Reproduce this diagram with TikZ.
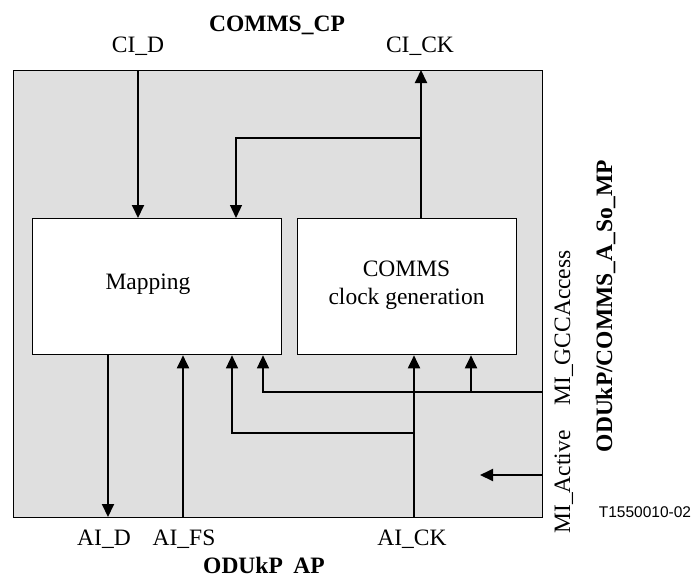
\documentclass[tikz,border=0pt]{standalone}
\usepackage{fontspec}
\setmainfont{Liberation Serif}
\newfontfamily\sansf{Liberation Sans}
\usetikzlibrary{arrows.meta}
\definecolor{bg}{RGB}{223,223,223}
\begin{document}
\begin{tikzpicture}[x=1pt,y=-1pt,
  txt/.style={font=\fontsize{23.5}{28}\selectfont, inner sep=0pt, anchor=base},
  btxt/.style={txt, font=\fontsize{23.5}{28}\selectfont\bfseries},
  blockbox/.style={draw, line width=1.3pt, fill=white, inner sep=0pt, anchor=north west},
  arr/.style={line width=1.9pt, -{Triangle[width=12pt,length=13pt]}},
  thinarr/.style={line width=1.2pt, -{Triangle[width=12pt,length=13pt]}},
  thinline/.style={line width=1.2pt}]
\useasboundingbox (0,0) rectangle (693,579);
% outer frame
\node[draw, line width=1.3pt, fill=bg, inner sep=0pt, anchor=north west,
      minimum width=529pt, minimum height=447pt] (outer) at (13,70) {};
% blocks
\node[blockbox, minimum width=249pt, minimum height=136pt] (map) at (32,218) {};
\node[blockbox, minimum width=219pt, minimum height=136pt] (clk) at (297,218) {};
\node[txt] (maptxt) at (148,289) {Mapping};
\node[txt] (clktxt1) at (406.5,276) {COMMS};
\node[txt] (clktxt2) at (406.5,304) {clock generation};
% coordinates
\coordinate (cid) at (138,70);
\coordinate (cick) at (421,70);
\coordinate (br) at (421,138);
\coordinate (brl) at (236,138);
\coordinate (aid) at (108,517);
\coordinate (aifs) at (183,517);
\coordinate (aick) at (414,517);
\coordinate (ck2) at (414,433);
\coordinate (ck2l) at (232,433);
\coordinate (gcc) at (542,392);
\coordinate (gccl) at (263,392);
\coordinate (gccm) at (471,392);
\coordinate (mia) at (542,475);
\coordinate (mia2) at (480,475);
% connectors
\draw[arr] (cid) -- (cid |- map.north);
\draw[arr] (cick |- clk.north) -- (cick);
\draw[thinarr] (br) -- (brl) -- (brl |- map.north);
\draw[arr] (aid |- map.south) -- (aid);
\draw[arr] (aifs) -- (aifs |- map.south);
\draw[arr] (aick) -- (aick |- clk.south);
\draw[thinarr] (ck2) -- (ck2l) -- (ck2l |- map.south);
\draw[thinarr] (gcc) -- (gccl) -- (gccl |- map.south);
\draw[arr] (gccm) -- (gccm |- clk.south);
\draw[arr] (mia) -- (mia2);
% labels
\node[btxt] (tcp) at (277,31) {COMMS\_CP};
\node[txt] (lcid) at (138,52) {CI\_D};
\node[txt] (lcick) at (420,52) {CI\_CK};
\node[txt] (laid) at (104,545) {AI\_D};
\node[txt] (laifs) at (184,545) {AI\_FS};
\node[txt] (laick) at (412,545) {AI\_CK};
\node[btxt] (tap) at (264,573) {ODUkP\hspace{0.45em}AP};
\node[txt, rotate=90] (lmia) at (570,482) {MI\_Active};
\node[txt, rotate=90] (lgcc) at (570,328) {MI\_GCCAccess};
\node[btxt, rotate=90] (tmp) at (612,306) {ODUkP/COMMS\_A\_So\_MP};
\node[txt, font=\sansf\fontsize{15.5}{18}\selectfont] (fig) at (645,517) {T1550010-02};
\end{tikzpicture}
\end{document}
